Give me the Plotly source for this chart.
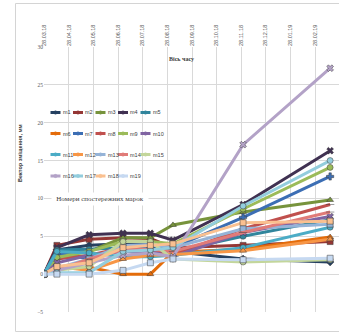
import plotly.graph_objects as go

# ---- data ----
dates = ["2018-03-28", "2018-04-13", "2018-05-23", "2018-07-04",
         "2018-08-07", "2018-09-04", "2018-11-30", "2019-03-18"]

m1 = [0, 3.2, 3.8, 4.0, 4.0, 3.0, 2.0, 1.6]
m2 = [0, 3.8, 4.6, 4.8, 4.7, 3.5, 3.8, 4.3]
m3 = [0, 2.5, 3.0, 4.8, 4.8, 6.5, 8.2, 9.8]
m4 = [0, 3.5, 5.2, 5.4, 5.4, 4.5, 9.2, 16.3]
m5 = [0, 3.2, 3.3, 3.5, 3.5, 3.0, 5.0, 7.2]
m6 = [0, 0.9, 0.9, 0, 0, 2.9, 3.3, 4.9]
m7 = [0, 2.8, 2.0, 3.8, 3.6, 3.5, 7.5, 12.9]
m8 = [0, 2.0, 2.5, 3.5, 3.2, 2.5, 6.0, 9.2]
m9 = [0, 2.2, 3.0, 4.3, 4.3, 4.0, 8.6, 14.1]
m10 = [0, 1.5, 2.5, 3.0, 3.0, 2.3, 5.5, 7.6]
m11 = [0, 3.0, 2.8, 2.3, 2.3, 2.5, 3.5, 6.2]
m12 = [0, 1.0, 0.5, 2.0, 2.5, 2.6, 3.1, 4.6]
m13 = [0, 0.8, 2.0, 3.8, 3.9, 3.5, 6.0, 6.6]
m14 = [0, 0.5, 2.0, 3.2, 3.3, 3.0, 5.5, 8.2]
m15 = [0, 0.5, 1.0, 4.3, 4.3, 2.0, 1.6, 1.9]
m16 = [0, 0.5, 1.5, 2.5, 2.8, 2.3, 17.1, 27.2]
m17 = [0, 0.2, 0.2, 3.0, 3.2, 3.5, 9.0, 15.0]
m18 = [0, 1.0, 1.5, 3.5, 3.8, 4.0, 6.8, 7.0]
m19 = [0, 0, 0, 0.5, 1.5, 2.0, 1.9, 2.1]

series_names = ["m1", "m2", "m3", "m4", "m5", "m6", "m7", "m8", "m9", "m10",
                "m11", "m12", "m13", "m14", "m15", "m16", "m17", "m18", "m19"]
series_values = [m1, m2, m3, m4, m5, m6, m7, m8, m9, m10,
                 m11, m12, m13, m14, m15, m16, m17, m18, m19]

tick_dates = ["2018-03-28", "2018-04-28", "2018-05-28", "2018-06-28", "2018-07-28",
              "2018-08-28", "2018-09-28", "2018-10-28", "2018-11-28", "2018-12-28",
              "2019-01-28", "2019-02-28", "2019-03-28"]
tick_labels = ["28.03.18", "28.04.18", "28.05.18", "28.06.18", "28.07.18",
               "28.08.18", "28.09.18", "28.10.18", "28.11.18", "28.12.18",
               "28.01.19", "28.02.19", "28.03.19"]

y_ticks = [-5, 0, 5, 10, 15, 20, 25, 30]

# ---- styles ----
colors = ["#254061", "#953735", "#77933C", "#403152", "#31859C", "#E46C0A",
          "#3C6EB4", "#C0504D", "#9BBB59", "#8064A2", "#4BACC6", "#F79646",
          "#95B3D7", "#E07B78", "#C3D69B", "#B3A2C7", "#93CDDD", "#FAC090",
          "#C6D9F1"]
symbols = ["diamond", "square", "triangle-up", "x", "circle", "triangle-up",
           "cross", "line-ew", "circle", "x", "circle", "triangle-up",
           "square", "line-ew", "circle", "x", "circle", "square", "square"]

W, H = 339, 333
L, R, T, B = 44, 0, 47, 21
PW, PH = W - L - R, H - T - B


def px(x):
    return (x - L) / PW


def py(y):
    return (H - B - y) / PH


fig = go.Figure()
for name, vals, c, s in zip(series_names, series_values, colors, symbols):
    fig.add_trace(go.Scatter(
        x=dates, y=vals, name=name, mode="lines+markers",
        line=dict(color=c, width=3),
        marker=dict(symbol=s, size=6, color=c,
                    line=dict(color="rgba(60,60,60,0.5)", width=1)),
        showlegend=False))

shapes = []
annotations = []

# outer chart frame
shapes.append(dict(type="rect", xref="paper", yref="paper",
                   x0=px(15.5), x1=px(345), y0=py(331.5), y1=py(3.5),
                   line=dict(color="#d4d4d4", width=1), layer="below"))

# manual legend (5 columns x 4 rows)
col_x = [50.5, 73, 95.5, 118, 140.5]
row_y = [112.5, 133.5, 154.5, 176]
for i, (name, c) in enumerate(zip(series_names, colors)):
    cx = col_x[i % 5]
    ry = row_y[i // 5]
    shapes.append(dict(type="line", xref="paper", yref="paper",
                       x0=px(cx), x1=px(cx + 10), y0=py(ry), y1=py(ry),
                       line=dict(color=c, width=3)))
    shapes.append(dict(type="circle", xref="paper", yref="paper",
                       x0=px(cx + 3.3), x1=px(cx + 6.7),
                       y0=py(ry + 1.7), y1=py(ry - 1.7),
                       fillcolor=c, line=dict(color=c, width=0.5)))
    annotations.append(dict(text=name, xref="paper", yref="paper",
                            x=px(cx + 10), y=py(ry), xanchor="left",
                            yanchor="middle", showarrow=False,
                            font=dict(size=5.5, color="#404040",
                                      family="Liberation Sans")))

annotations.append(dict(text="Номери спостережних марок", xref="paper", yref="paper",
                        x=px(100), y=py(198.5), xanchor="center", yanchor="middle",
                        showarrow=False, bgcolor="white", width=94, height=10,
                        font=dict(size=7, color="#404040", family="Liberation Serif")))
annotations.append(dict(text="<b>Вісь часу</b>", xref="paper", yref="paper",
                        x=px(181), y=py(59), xanchor="center", yanchor="middle",
                        showarrow=False,
                        font=dict(size=6, color="#404040", family="Liberation Serif")))
annotations.append(dict(text="<b>Вектор зміщення, мм</b>", xref="paper", yref="paper",
                        x=px(20), y=py(153), xanchor="center", yanchor="middle",
                        textangle=-90, showarrow=False,
                        font=dict(size=5.5, color="#404040", family="Liberation Sans")))

fig.update_layout(
    width=W, height=H,
    margin=dict(l=L, r=R, t=T, b=B, pad=0),
    paper_bgcolor="white", plot_bgcolor="white",
    shapes=shapes, annotations=annotations,
    showlegend=False,
    xaxis=dict(type="date", side="top", range=["2018-03-28", "2019-03-29"],
               tickmode="array", tickvals=tick_dates, ticktext=tick_labels,
               tickangle=-90, showgrid=True, gridcolor="#d9d9d9", gridwidth=1,
               zeroline=False, showline=False, ticks="",
               tickfont=dict(size=5.5, color="#595959", family="Liberation Sans")),
    yaxis=dict(range=[-5, 30], tickmode="array", tickvals=y_ticks,
               showgrid=True, gridcolor="#d9d9d9", gridwidth=1,
               zeroline=False, showline=False, ticks="",
               tickfont=dict(size=5.5, color="#595959", family="Liberation Serif")),
)

fig.write_html("out.html", config={"displayModeBar": False},
               post_script="document.body.style.margin='0';document.body.style.overflow='hidden';")
